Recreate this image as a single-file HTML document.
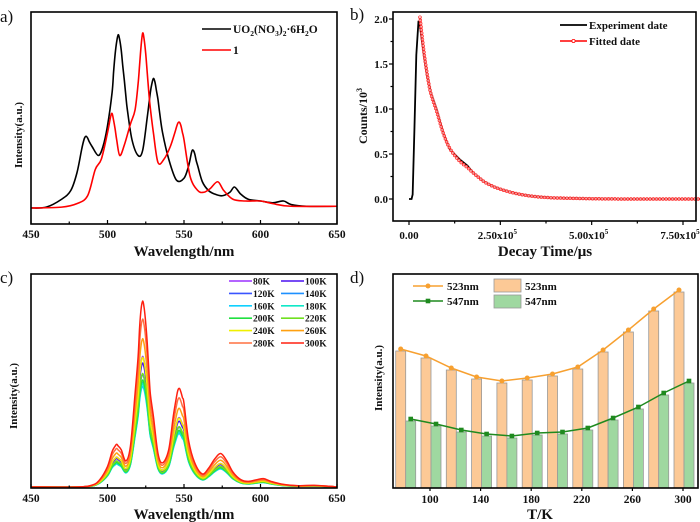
<!DOCTYPE html>
<html><head><meta charset="utf-8">
<style>
html,body{margin:0;padding:0;background:#fff;}
svg{display:block;font-family:"Liberation Serif",serif;font-weight:bold;}
text{fill:#111;}
</style></head>
<body>
<svg id="fig" width="700" height="522" viewBox="0 0 700 522" xmlns="http://www.w3.org/2000/svg">
<g id="pa"></g>
<g id="pb"></g>
<g id="pc"></g>
<g id="pd"></g>
</svg>
<script>
// ---------- Panel a data ----------
const aBlackX=[450,460,470,476,480,483,484,485,486,487,488,490,494,497,500,503,504,505,506,507,508,509,510,511,512,513,516,520,523,526,528,529,530,531,532,533,534,536,540,545,550,553,555,556,557,558,559,562,566,570,575,580,583,587,592,600,608,615,620,630,650];
const aBlackY=[0,0.5,5,10,20,33,37,40,41,40,38,35,30,35,47,66,78,88,95,99,96,90,81,73,64,56,39,30,33,52,66,71,74,72,67,62,55,43,28,16,17,24,32,33,31,27,24,15,10,8,7,9,12,8,5,4,3,4,2,1,1];
const aRedX=[450,470,480,487,492,496,500,502,503,504,505,506,508,511,515,518,520,521,522,523,524,525,526,527,528,530,533,537,541,544,545,546,547,548,549,550,554,559,563,567,572,576,582,590,600,608,620,650];
const aRedY=[0,0.5,2.5,7,22,28,43,52,54,50,45,39,30,36,48,56,71,82,93,100,96,88,77,66,57,43,26,28,35,43,46,48.5,49,47,43,39,18,10,9,11,15,10,5,4,4,2.5,1,1];
const wlTicks=[450,500,550,600,650];
// ---------- Panel b data ----------
const bExpX=[0,0.07,0.1,0.15,0.2,0.26,0.3,0.4,0.5,0.6,0.76,0.94,1.12,1.39,1.6,1.76,2.03,2.25,2.49,2.94,3.4,3.85,4.77,6,8];
const bExpY=[0,0,0.05,0.8,1.6,1.98,1.92,1.62,1.36,1.18,0.99,0.73,0.55,0.44,0.37,0.29,0.2,0.15,0.11,0.06,0.03,0.015,0.005,0,0];
const bFitX=[0.3,0.4,0.5,0.6,0.76,0.94,1.12,1.39,1.6,1.76,2.03,2.25,2.49,2.94,3.4,3.85,4.77,6,8];
const bFitY=[2.02,1.66,1.38,1.17,0.97,0.73,0.56,0.42,0.35,0.29,0.2,0.15,0.11,0.06,0.03,0.015,0.005,0,0];
const bYTicks=[0,0.5,1.0,1.5,2.0];
const bXTicks=[0,2.5,5,7.5];
const bXLabels=["0.00","2.50x10","5.00x10","7.50x10"];
// ---------- Panel c data ----------
const cShapeX=[450,480,490,495,500,503,505,506,507,509,512,515,518,520,521,522,523,524,525,526,527,528,530,533,536,540,543,545,546,547,548,549,550,553,557,562,566,570,574,578,582,587,592,598,602,607,615,625,635,645,650];
const cShapeY=[0,0,1,4,11,19,22,23,22,20,14,22,50,70,86,96,100,96,88,77,63,50,38,18,13,20,38,48,52,53,51,48,45,25,13,7,10,15,18,14,8,4,3,4,4.5,3,1.4,0.7,0.9,0.4,0];
const cTemps=["80K","100K","120K","140K","160K","180K","200K","220K","240K","260K","280K","300K"];
const cPeak=[392,372,338,313,302,310,321,341,389,445,504,558];
const cColors=["#9b30ff","#4a10f0","#3a55ff","#1e90ff","#10d0ff","#10e8c8","#20e040","#70e020","#f0f000","#ffa010","#ff7040","#ff2010"];
// ---------- Panel d data ----------
const dTemps=[80,100,120,140,160,180,200,220,240,260,280,300];
const d523=[139,132,120,111,107,110,114,121,138,158,179,198];
const d547=[69,64,58,54,52,55,56,60,70,81,95,107];
const dTicks=[100,140,180,220,260,300];

const NS="http://www.w3.org/2000/svg";
function mk(parent,tag,attrs,txt){const e=document.createElementNS(NS,tag);for(const k in attrs)e.setAttribute(k,attrs[k]);if(txt!==undefined)e.textContent=txt;parent.appendChild(e);return e;}
function smooth(pts){let d="M"+pts[0][0].toFixed(2)+","+pts[0][1].toFixed(2);for(let i=0;i<pts.length-1;i++){const p0=pts[i-1]||pts[i],p1=pts[i],p2=pts[i+1],p3=pts[i+2]||p2;const c1x=p1[0]+(p2[0]-p0[0])/6,c1y=p1[1]+(p2[1]-p0[1])/6,c2x=p2[0]-(p3[0]-p1[0])/6,c2y=p2[1]-(p3[1]-p1[1])/6;d+=`C${c1x.toFixed(2)},${c1y.toFixed(2)} ${c2x.toFixed(2)},${c2y.toFixed(2)} ${p2[0].toFixed(2)},${p2[1].toFixed(2)}`;}return d;}

// ===== Panel a =====
(function(){
const g=document.getElementById('pa');
const L=31,R=337,T=12,B=224,base=208,top=33;
const X=v=>L+(v-450)/200*(R-L), Y=v=>base-v/100*(base-top);
let t=mk(g,'text',{x:0,y:22,'font-size':17,'font-weight':'normal'},'a)');

let p=mk(g,'path',{d:smooth(aBlackX.map((x,i)=>[X(x),Y(aBlackY[i])])),fill:'none',stroke:'#000','stroke-width':1.6});

p=mk(g,'path',{d:smooth(aRedX.map((x,i)=>[X(x),Y(aRedY[i])])),fill:'none',stroke:'#f00','stroke-width':1.6});

let r=mk(g,'rect',{x:L,y:T,width:R-L,height:B-T,fill:'none',stroke:'#000','stroke-width':1.6});

for(let v=450;v<=650;v+=25){mk(g,'line',{x1:X(v),x2:X(v),y1:B,y2:B-(v%50?2.5:4),stroke:'#000','stroke-width':1.2});}
wlTicks.forEach(v=>{const e=mk(g,'text',{x:X(v),y:238,'font-size':11.5,'text-anchor':'middle'},v);});
t=mk(g,'text',{x:184,y:256,'font-size':15,'text-anchor':'middle'},'Wavelength/nm');
t=mk(g,'text',{x:0,y:0,'font-size':11,'text-anchor':'middle',transform:'translate(22,135) rotate(-90)'},'Intensity(a.u.)');
const lg=mk(g,'g',{});
mk(lg,'line',{x1:202,x2:231,y1:29,y2:29,stroke:'#000','stroke-width':1.6});
const tt=mk(lg,'text',{x:233,y:33,'font-size':11.5});tt.innerHTML='UO<tspan font-size="7.5" dy="3">2</tspan><tspan dy="-3">(NO</tspan><tspan font-size="7.5" dy="3">3</tspan><tspan dy="-3">)</tspan><tspan font-size="7.5" dy="3">2</tspan><tspan dy="-3">·6H</tspan><tspan font-size="7.5" dy="3">2</tspan><tspan dy="-3">O</tspan>';
mk(lg,'line',{x1:202,x2:231,y1:50,y2:50,stroke:'#f00','stroke-width':1.6});
mk(lg,'text',{x:233,y:54,'font-size':11.5},'1');
})();

// ===== Panel b =====
(function(){
const g=document.getElementById('pb');
const L=393,R=696,T=12,B=221;
const X=v=>409+v/7.5*(683-409), Y=v=>199-v/2*(199-19);
let t=mk(g,'text',{x:350,y:20,'font-size':17,'font-weight':'normal'},'b)');
let p=mk(g,'path',{d:"M"+bExpX.map((x,i)=>X(x).toFixed(2)+","+Y(bExpY[i]).toFixed(2)).join("L"),fill:'none',stroke:'#000','stroke-width':1.8});

const fp=mk(g,'path',{d:smooth(bFitX.map((x,i)=>[X(x),Y(bFitY[i])])),fill:'none',stroke:'#f00','stroke-width':1.2});

const len=fp.getTotalLength();const mg=mk(g,'g',{});
for(let s=0;s<=len;s+=3.2){const q=fp.getPointAtLength(s);mk(mg,'circle',{cx:q.x,cy:q.y,r:1.4,fill:'#fff','fill-opacity':0.6,stroke:'#f22','stroke-width':0.7});}
let r=mk(g,'rect',{x:L,y:T,width:R-L,height:B-T,fill:'none',stroke:'#000','stroke-width':1.6});
for(let v=0;v<=2.0001;v+=0.25){mk(g,'line',{x1:L,x2:L-(Math.abs(v*2-Math.round(v*2))<0.01?4:2.5),y1:Y(v),y2:Y(v),stroke:'#000','stroke-width':1.2});}
bYTicks.forEach(v=>{const e=mk(g,'text',{x:388,y:Y(v)+4,'font-size':11,'text-anchor':'end'},v.toFixed(1));});
for(let v=0;v<=7.5;v+=1.25){mk(g,'line',{x1:X(v),x2:X(v),y1:B,y2:B+(v%2.5?2.5:4),stroke:'#000','stroke-width':1.2});}
bXTicks.forEach((v,i)=>{const e=mk(g,'text',{x:X(v)-(i?3:0),y:239,'font-size':11,'text-anchor':'middle'});e.innerHTML=bXLabels[i]+(i?'<tspan font-size="7" dy="-5">5</tspan>':'');});
t=mk(g,'text',{x:545,y:256,'font-size':15,'text-anchor':'middle'},'Decay Time/μs');
t=mk(g,'text',{x:0,y:0,'font-size':12,'text-anchor':'middle',transform:'translate(367,116) rotate(-90)'});t.innerHTML='Counts/10<tspan font-size="8" dy="-5">3</tspan>';
const lg=mk(g,'g',{});
mk(lg,'line',{x1:560,x2:587,y1:25,y2:25,stroke:'#000','stroke-width':1.8});
mk(lg,'text',{x:589,y:29,'font-size':11},'Experiment date');
mk(lg,'line',{x1:560,x2:587,y1:41,y2:41,stroke:'#f00','stroke-width':1.6});
mk(lg,'circle',{cx:573.5,cy:41,r:1.6,fill:'#fff',stroke:'#f00','stroke-width':0.8});
mk(lg,'text',{x:589,y:45,'font-size':11},'Fitted date');
})();

// ===== Panel c =====
(function(){
const g=document.getElementById('pc');
const L=31,R=337,T=274,B=488,base=487;
const X=v=>L+(v-450)/200*(R-L);
let t=mk(g,'text',{x:0,y:283,'font-size':17,'font-weight':'normal'},'c)');
cTemps.forEach((name,k)=>{const sc=cPeak[k]/3/100;const p=mk(g,'path',{d:smooth(cShapeX.map((x,i)=>[X(x),base-cShapeY[i]*sc])),fill:'none',stroke:cColors[k],'stroke-width':1.5});

});
let r=mk(g,'rect',{x:L,y:T,width:R-L,height:B-T,fill:'none',stroke:'#000','stroke-width':1.6});
for(let v=450;v<=650;v+=25){mk(g,'line',{x1:X(v),x2:X(v),y1:B,y2:B-(v%50?2.5:4),stroke:'#000','stroke-width':1.2});}
wlTicks.forEach(v=>{const e=mk(g,'text',{x:X(v),y:502,'font-size':11.5,'text-anchor':'middle'},v);});
t=mk(g,'text',{x:184,y:519,'font-size':15,'text-anchor':'middle'},'Wavelength/nm');
t=mk(g,'text',{x:0,y:0,'font-size':11,'text-anchor':'middle',transform:'translate(17,396) rotate(-90)'},'Intensity(a.u.)');
const lg=mk(g,'g',{});
cTemps.forEach((name,k)=>{const col=k%2,row=Math.floor(k/2);const y=281+row*12.4;const x0=col?281:229;
const e=mk(lg,'g',{});
mk(e,'line',{x1:x0,x2:x0+23,y1:y,y2:y,stroke:cColors[k],'stroke-width':1.6});
mk(e,'text',{x:x0+24,y:y+3.5,'font-size':9.5},name);});
})();

// ===== Panel d =====
(function(){
const g=document.getElementById('pd');
const L=393,R=698,T=274,B=488;
const X=v=>430+(v-100)/200*(683-430), Y=v=>B-v;
let t=mk(g,'text',{x:350,y:283,'font-size':17,'font-weight':'normal'},'d)');
dTemps.forEach((T0,i)=>{
 let b=mk(g,'rect',{x:X(T0)-9,y:Y(d523[i]-2),width:10,height:d523[i]-2,fill:'#fcc996',stroke:'#999','stroke-width':0.8});
 
 b=mk(g,'rect',{x:X(T0)+1,y:Y(d547[i]-2),width:10,height:d547[i]-2,fill:'#9fd8a0',stroke:'#999','stroke-width':0.8});
 
});
let p=mk(g,'path',{d:"M"+dTemps.map((T0,i)=>(X(T0)-4)+","+Y(d523[i])).join("L"),fill:'none',stroke:'#f7a030','stroke-width':1.5});

dTemps.forEach((T0,i)=>{const c=mk(g,'circle',{cx:X(T0)-4,cy:Y(d523[i]),r:2.5,fill:'#f7a030'});});
p=mk(g,'path',{d:"M"+dTemps.map((T0,i)=>(X(T0)+6)+","+Y(d547[i])).join("L"),fill:'none',stroke:'#1f8a1f','stroke-width':1.5});

dTemps.forEach((T0,i)=>{const c=mk(g,'rect',{x:X(T0)+6-2.3,y:Y(d547[i])-2.3,width:4.6,height:4.6,fill:'#1f8a1f'});});
let r=mk(g,'rect',{x:L,y:T,width:R-L,height:B-T,fill:'none',stroke:'#000','stroke-width':1.6});
dTicks.forEach(v=>{mk(g,'line',{x1:X(v),x2:X(v),y1:B,y2:B+3,stroke:'#000','stroke-width':1.2});const e=mk(g,'text',{x:X(v),y:503,'font-size':11.5,'text-anchor':'middle'},v);});
t=mk(g,'text',{x:540,y:519,'font-size':15,'text-anchor':'middle'},'T/K');
t=mk(g,'text',{x:0,y:0,'font-size':11,'text-anchor':'middle',transform:'translate(382,378) rotate(-90)'},'Intensity(a.u.)');
const lg=mk(g,'g',{});
mk(lg,'line',{x1:413,x2:443,y1:286,y2:286,stroke:'#f7a030','stroke-width':1.5});mk(lg,'circle',{cx:428,cy:286,r:2.5,fill:'#f7a030'});
mk(lg,'text',{x:447,y:290,'font-size':11},'523nm');
mk(lg,'line',{x1:413,x2:443,y1:301,y2:301,stroke:'#1f8a1f','stroke-width':1.5});mk(lg,'rect',{x:425.7,y:298.7,width:4.6,height:4.6,fill:'#1f8a1f'});
mk(lg,'text',{x:447,y:305,'font-size':11},'547nm');
mk(lg,'rect',{x:494,y:279,width:27,height:13,fill:'#fcc996',stroke:'#999','stroke-width':0.8});
mk(lg,'text',{x:525,y:290,'font-size':11},'523nm');
mk(lg,'rect',{x:494,y:295,width:27,height:13,fill:'#9fd8a0',stroke:'#999','stroke-width':0.8});
mk(lg,'text',{x:525,y:305,'font-size':11},'547nm');
})();
</script>
</body></html>
